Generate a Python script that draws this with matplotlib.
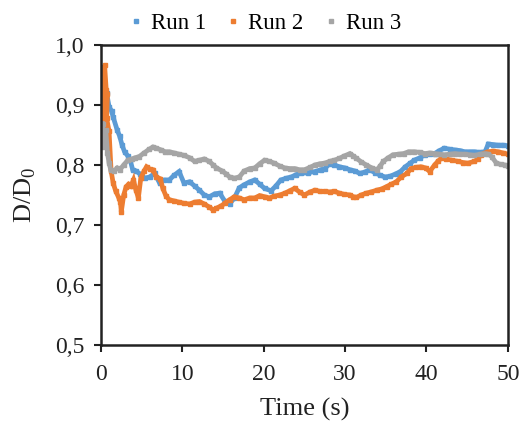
import matplotlib
matplotlib.use("Agg")
import matplotlib.pyplot as plt
from matplotlib.ticker import FuncFormatter

plt.rcParams['font.family'] = ['Liberation Serif', 'DejaVu Serif']
plt.rcParams['mathtext.fontset'] = 'custom'
plt.rcParams['mathtext.rm'] = 'Liberation Serif'

series_names = ["Run 1", "Run 2", "Run 3"]
colors = ["#5B9BD5", "#ED7D31", "#A5A5A5"]

run1_t = [0.3, 0.7, 1.0, 1.3, 1.5, 2.0, 2.3, 2.6, 2.9, 3.3, 3.6, 3.9, 4.3, 4.8, 5.4, 6.0, 6.6, 7.2, 7.8, 8.4,
          9.0, 9.6, 10.2, 10.9, 11.5, 12.1, 12.7, 13.3, 14.0, 14.6, 15.2, 15.8, 16.4, 17.0, 17.6, 18.3, 18.9,
          19.5, 20.1, 20.9, 21.5, 22.1, 22.8, 23.4, 24.0, 24.6, 25.4, 26.3, 27.0, 27.5, 28.1, 28.7, 29.3, 30.0,
          30.6, 31.2, 31.8, 32.4, 33.0, 33.7, 34.3, 34.9, 35.5, 36.2, 36.8, 37.4, 38.0, 38.5, 39.2, 39.8, 40.4,
          41.0, 41.6, 42.2, 42.9, 43.5, 44.1, 44.7, 45.3, 45.9, 46.6, 47.2, 47.6, 48.2, 48.8, 49.4, 50.0]
run1_v = [0.94, 0.92, 0.897, 0.89, 0.88, 0.858, 0.848, 0.833, 0.822, 0.815, 0.808, 0.792, 0.79, 0.785, 0.778,
          0.78, 0.786, 0.77, 0.775, 0.775, 0.783, 0.789, 0.77, 0.772, 0.765, 0.758, 0.75, 0.747, 0.752, 0.753,
          0.74, 0.735, 0.745, 0.762, 0.767, 0.772, 0.775, 0.768, 0.761, 0.757, 0.765, 0.775, 0.778, 0.78, 0.784,
          0.786, 0.787, 0.789, 0.792, 0.794, 0.802, 0.8, 0.797, 0.795, 0.792, 0.79, 0.786, 0.788, 0.792, 0.787,
          0.783, 0.78, 0.781, 0.785, 0.789, 0.797, 0.803, 0.808, 0.812, 0.817, 0.818, 0.819, 0.824, 0.828,
          0.826, 0.825, 0.824, 0.822, 0.822, 0.822, 0.821, 0.822, 0.835, 0.834, 0.833, 0.833, 0.832]

run2_t = [0.3, 0.45, 0.65, 0.8, 0.7, 1.0, 1.25, 1.5, 1.8, 2.2, 2.4, 2.5, 2.8, 3.1, 3.4, 3.7, 4.0, 4.3, 4.6, 4.9,
          5.3, 5.6, 6.0, 6.4, 6.8, 7.3, 7.6, 8.0, 8.4, 9.0, 9.6, 10.2, 10.9, 11.5, 12.1, 12.7, 13.3, 13.8,
          14.2, 14.8, 15.3, 15.8, 16.4, 17.0, 17.6, 18.3, 18.9, 19.5, 20.1, 20.7, 21.3, 22.0, 22.6, 23.2, 23.8,
          24.4, 25.0, 25.7, 26.3, 26.9, 27.5, 28.1, 28.7, 29.3, 29.9, 30.6, 31.0, 31.4, 32.0, 32.6, 33.2, 33.9,
          34.5, 35.1, 35.7, 36.3, 36.9, 37.6, 38.1, 38.7, 39.3, 39.9, 40.4, 41.0, 41.4, 41.8, 42.4, 43.1, 43.9,
          44.5, 45.1, 45.9, 46.3, 46.7, 47.2, 47.6, 48.2, 48.8, 49.4, 50.0]
run2_v = [0.84, 0.967, 0.925, 0.918, 0.878, 0.856, 0.79, 0.77, 0.757, 0.745, 0.738, 0.722, 0.75, 0.764, 0.768,
          0.765, 0.775, 0.758, 0.745, 0.778, 0.79, 0.797, 0.793, 0.792, 0.78, 0.777, 0.761, 0.748, 0.742, 0.74,
          0.738, 0.736, 0.735, 0.738, 0.739, 0.735, 0.73, 0.725, 0.728, 0.732, 0.737, 0.742, 0.747, 0.745,
          0.742, 0.745, 0.745, 0.749, 0.747, 0.745, 0.748, 0.75, 0.753, 0.757, 0.761, 0.755, 0.75, 0.755, 0.758,
          0.756, 0.756, 0.755, 0.756, 0.753, 0.751, 0.75, 0.747, 0.746, 0.75, 0.753, 0.755, 0.758, 0.76, 0.764,
          0.768, 0.772, 0.78, 0.786, 0.794, 0.796, 0.797, 0.795, 0.789, 0.8, 0.806, 0.811, 0.81, 0.808, 0.806,
          0.804, 0.803, 0.806, 0.81, 0.817, 0.82, 0.822, 0.823, 0.822, 0.82, 0.818]

run3_t = [0.2, 0.4, 0.6, 0.8, 1.0, 1.2, 1.6, 2.0, 2.3, 2.8, 3.3, 3.8, 4.2, 4.7, 5.3, 5.9, 6.4, 6.8, 7.4, 7.9,
          8.4, 9.0, 9.6, 10.2, 10.9, 11.5, 12.1, 12.7, 13.3, 13.8, 14.2, 14.9, 15.4, 15.8, 16.4, 17.0, 17.6,
          18.3, 18.9, 19.5, 20.1, 20.7, 21.3, 22.0, 22.6, 23.2, 23.8, 24.4, 25.0, 25.7, 26.3, 26.9, 27.5, 28.1,
          28.7, 29.3, 29.9, 30.6, 31.0, 31.4, 32.0, 32.6, 33.3, 33.9, 34.3, 34.7, 35.3, 35.9, 36.6, 37.2, 37.8,
          38.5, 39.2, 39.8, 40.4, 41.0, 41.6, 42.2, 42.9, 43.5, 44.1, 44.7, 45.3, 45.9, 46.6, 47.2, 47.6, 48.0,
          48.6, 49.1, 49.6, 50.0]
run3_v = [0.869, 0.83, 0.858, 0.82, 0.803, 0.792, 0.79, 0.795, 0.792, 0.8, 0.808, 0.81, 0.812, 0.814, 0.82,
          0.826, 0.83, 0.828, 0.825, 0.822, 0.822, 0.82, 0.818, 0.816, 0.812, 0.806, 0.808, 0.81, 0.806, 0.8,
          0.795, 0.79, 0.785, 0.78, 0.778, 0.78, 0.79, 0.794, 0.795, 0.802, 0.808, 0.806, 0.803, 0.798, 0.795,
          0.794, 0.794, 0.792, 0.792, 0.796, 0.8, 0.802, 0.803, 0.806, 0.808, 0.811, 0.815, 0.819, 0.815, 0.811,
          0.805, 0.8, 0.795, 0.792, 0.798, 0.806, 0.812, 0.817, 0.818, 0.819, 0.822, 0.822, 0.821, 0.819, 0.82,
          0.819, 0.818, 0.817, 0.818, 0.819, 0.818, 0.818, 0.817, 0.816, 0.818, 0.819, 0.818, 0.814, 0.803,
          0.801, 0.8, 0.799]

x_ticks = [0, 10, 20, 30, 40, 50]
y_ticks = [0.5, 0.6, 0.7, 0.8, 0.9, 1.0]

fig = plt.figure(figsize=(5.23, 4.28), dpi=100)
ax = fig.add_axes([0.193, 0.194, 0.778, 0.701])

data = [(run1_t, run1_v), (run2_t, run2_v), (run3_t, run3_v)]
handles = []
for (t, v), name, c in zip(data, series_names, colors):
    ax.plot(t, v, color=c, lw=3.4, solid_joinstyle='miter', zorder=2)
    ax.plot(t, v, ls='none', marker='s', ms=3.4, color=c, zorder=2)
    h, = ax.plot([], [], ls='none', marker='s', ms=3, color=c, label=name)
    handles.append(h)

ax.set_xlim(0, 50)
ax.set_ylim(0.5, 1.0)
ax.set_xticks(x_ticks)
ax.set_yticks(y_ticks)
ax.yaxis.set_major_formatter(FuncFormatter(lambda v, p: f"{v:.1f}".replace(".", ",")))
ax.tick_params(axis='both', direction='out', length=5, width=1.5, labelsize=17, colors='#222222')
ax.tick_params(axis='x', pad=9)
ax.tick_params(axis='y', pad=7)
for s in ax.spines.values():
    s.set_linewidth(1.8)
    s.set_color('#222222')

ax.set_xlabel("Time (s)", fontsize=19, labelpad=9, color='#222222')
ax.set_ylabel(r"D/D$_0$", fontsize=19, labelpad=12, color='#222222')

fig.legend(handles=handles, loc='center', bbox_to_anchor=(0.507, 0.945), ncol=3, frameon=False,
           fontsize=16.5, handlelength=0.6, handletextpad=0.35, columnspacing=0.9, markerscale=1.0)

fig.savefig("out.png", dpi=100)
